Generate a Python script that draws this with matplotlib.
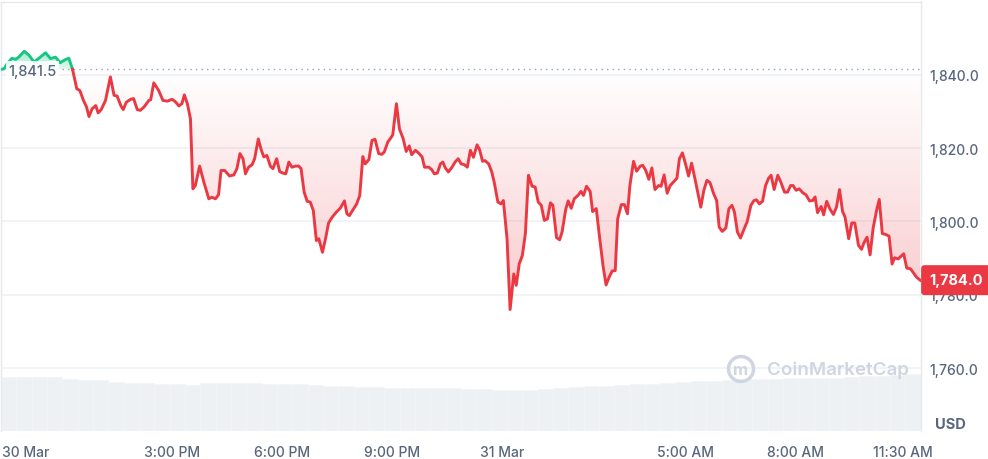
import numpy as np
import matplotlib.pyplot as plt
from matplotlib.colors import LinearSegmentedColormap
from matplotlib.path import Path
from matplotlib.patches import Circle

plt.rcParams['font.family'] = ['Inter', 'DejaVu Sans']

# minutes since 30 Mar 00:00, price in USD
minutes = [621, 625, 630, 638, 644, 649, 658, 666, 674, 682, 693, 701, 709, 717, 726, 731, 737,
           744, 749, 755, 760, 764, 769, 775, 779, 784, 791, 799, 805, 810, 816, 820, 825, 832,
           837, 843, 848, 854, 862, 865, 870, 878, 885, 892, 900, 905, 911, 916, 920, 925, 930,
           934, 938, 945, 952, 960, 965, 971, 976, 980, 986, 994, 1001, 1006, 1011,
           1016, 1020, 1025, 1031, 1035, 1041, 1046, 1050, 1055, 1061, 1065, 1071, 1076, 1081,
           1086, 1091, 1096, 1102, 1107, 1111, 1116, 1121, 1126, 1131, 1136, 1140, 1146, 1151,
           1156, 1162, 1169, 1175, 1182, 1186, 1190, 1197, 1202, 1207, 1212, 1216, 1222, 1227,
           1232, 1238, 1243, 1247, 1253, 1257, 1261, 1267, 1272, 1278, 1283, 1288, 1292, 1298,
           1303, 1309, 1313, 1320, 1325, 1329, 1334, 1339, 1343, 1347, 1352, 1358, 1363, 1368,
           1373, 1378, 1383, 1388,
           1393, 1399, 1403, 1408, 1412, 1418, 1423, 1427, 1433, 1438, 1442, 1448, 1453, 1459,
           1463, 1468, 1473, 1478, 1483, 1489, 1494, 1499, 1504, 1509, 1514, 1519, 1523, 1529,
           1534, 1538, 1544, 1548, 1553, 1558, 1564, 1569, 1573, 1578, 1584, 1588, 1594, 1599,
           1605, 1610, 1615, 1620, 1625, 1629, 1635, 1640, 1645, 1649, 1655, 1660, 1666, 1670,
           1675, 1680, 1685, 1690, 1696, 1700, 1705, 1710, 1715, 1720, 1726, 1730, 1735, 1740,
           1745, 1750,
           1756, 1761, 1765, 1770, 1775, 1780, 1786, 1791, 1795, 1800, 1806, 1811, 1816, 1820,
           1825, 1830, 1836, 1841, 1847, 1852, 1856, 1861, 1866, 1871, 1876, 1880, 1885, 1891,
           1896, 1902, 1907, 1912, 1916, 1921, 1926, 1932, 1937, 1943, 1948, 1952, 1956, 1962,
           1966, 1971, 1976, 1982, 1987, 1992, 1997, 2001, 2007, 2012, 2017, 2023, 2028, 2032,
           2037, 2042, 2047, 2053, 2057, 2062, 2067, 2073, 2078, 2082, 2088, 2093, 2097, 2102,
           2108, 2113, 2118, 2124]
prices = [1841.5, 1841.6, 1843.0, 1844.5, 1844.2, 1844.8, 1846.4, 1845.3, 1843.5, 1844.5,
          1846.0, 1844.4, 1844.8, 1843.3, 1844.2, 1844.5, 1841.5,
          1836.2, 1835.7, 1833.0, 1831.2, 1828.6, 1830.7, 1831.6, 1829.6, 1830.5, 1833.0, 1839.4,
          1834.4, 1834.2, 1831.6, 1830.5, 1832.5, 1833.3, 1833.5, 1830.5, 1830.3, 1831.2, 1833.0,
          1833.2, 1837.8, 1835.7, 1833.0, 1832.8, 1833.3, 1832.7, 1831.5, 1832.1, 1834.5, 1832.1,
          1828.0, 1808.9, 1809.8, 1815.1, 1810.7, 1806.2, 1806.6, 1806.2, 1807.3, 1813.9, 1813.9,
          1812.4, 1812.7, 1814.4, 1818.5,
          1817.1, 1813.0, 1814.8, 1815.5, 1817.1, 1822.5, 1819.4, 1817.6, 1818.0, 1815.0, 1814.4,
          1817.1, 1813.6, 1813.2, 1813.0, 1816.2, 1814.8, 1815.1, 1815.1, 1814.4, 1808.0, 1805.5,
          1805.3, 1803.0, 1794.8, 1795.3, 1791.6, 1795.3, 1799.6, 1801.2, 1802.6, 1803.6, 1805.6,
          1802.1, 1801.6, 1803.5, 1804.8, 1807.1, 1817.7, 1815.7, 1816.9, 1822.1, 1822.4, 1818.5,
          1818.3, 1818.9, 1821.7, 1822.6, 1823.6, 1832.1, 1825.2, 1822.6, 1819.1, 1820.6, 1818.2,
          1819.4, 1818.7, 1817.6, 1814.8, 1814.8, 1814.1, 1813.0, 1813.2, 1815.7, 1816.2, 1814.6,
          1813.5, 1814.8, 1816.2, 1817.1, 1815.7, 1815.5, 1814.8, 1819.4,
          1817.5, 1820.9, 1819.6, 1816.4, 1816.6, 1815.7, 1813.5, 1810.7, 1805.3, 1804.8, 1805.7,
          1795.3, 1776.0, 1785.7, 1782.6, 1788.5, 1790.7, 1796.7, 1812.6, 1809.6, 1809.4, 1805.3,
          1804.4, 1800.3, 1800.7, 1805.1, 1804.4, 1795.6, 1795.0, 1797.1, 1803.3, 1805.6, 1803.6,
          1806.2, 1807.1, 1808.2, 1807.1, 1809.6, 1808.2, 1802.7, 1803.5, 1796.2, 1788.0, 1782.7,
          1784.8, 1786.5, 1786.6, 1800.7, 1804.6, 1804.6, 1802.1, 1809.8, 1816.4, 1813.7, 1815.1,
          1815.3, 1813.9, 1811.5, 1814.6, 1808.7, 1809.8, 1809.6, 1812.7, 1807.7, 1809.8, 1810.7,
          1811.8, 1817.1, 1818.7, 1815.7, 1812.4, 1815.9,
          1811.2, 1807.1, 1803.9, 1808.5, 1811.2, 1810.6, 1807.6, 1805.7, 1798.5, 1797.3, 1798.2,
          1803.5, 1804.4, 1802.6, 1797.1, 1795.5, 1798.0, 1800.0, 1804.4, 1805.7, 1805.9, 1804.8,
          1805.5, 1809.8, 1811.8, 1812.6, 1808.7, 1812.6, 1810.7, 1808.0, 1808.0, 1809.8, 1809.8,
          1808.5, 1808.9, 1807.8, 1807.3, 1805.6, 1805.7, 1806.7, 1802.4, 1804.1, 1801.8, 1805.5,
          1803.5, 1801.9, 1803.9, 1808.7, 1802.7, 1801.2, 1795.3, 1799.6, 1799.6, 1793.5, 1792.4,
          1794.2, 1795.7, 1790.9, 1798.2, 1803.3, 1806.0, 1796.7, 1796.5, 1796.0, 1788.4, 1790.1,
          1789.8, 1790.6, 1791.2, 1787.3, 1787.1, 1786.0, 1784.8, 1784.0]
volume = [54, 54, 54, 54, 52, 51, 51, 49, 48, 48, 47, 47, 46, 48, 48, 48, 48, 47, 47, 47,
          46, 45, 45, 44, 44, 43, 43, 43, 43, 43, 42, 42, 41, 41, 41, 42, 43, 44, 45, 45,
          46, 47, 47, 48, 49, 50, 50, 51, 52, 52, 52, 53, 53, 53, 53, 54, 55, 55, 56, 57]

base_price = 1841.5
y_ticks = [1760, 1780, 1800, 1820, 1840]
x_tick_pos = [660, 900, 1080, 1260, 1440, 1740, 1920, 2095]
x_tick_labels = ['30 Mar', '3:00 PM', '6:00 PM', '9:00 PM', '31 Mar', '5:00 AM', '8:00 AM', '11:30 AM']

red = '#ea3943'
green = '#16c784'
grey_text = '#58667e'

t = np.array(minutes, dtype=float)
p = np.array(prices)
x0, x1 = 620, 2125

fig = plt.figure(figsize=(9.88, 4.6), dpi=100)
ax = fig.add_axes([0.001, 0.061, 0.931, 0.933])
ax.set_xlim(x0, x1)
ax.set_ylim(1742.9, 1859.9)

# volume bars behind the price line
vax = ax.twinx()
vax.set_ylim(0, 429)
edges = np.linspace(x0, x1, len(volume) + 1)
vax.bar(edges[:-1], volume, width=edges[1] - edges[0], align='edge',
        color='#eef1f4', edgecolor='#f3f5f7', linewidth=0.4)
vax.set_yticks([])
vax.set_zorder(0)
ax.set_zorder(1)
ax.patch.set_visible(False)
for s in vax.spines.values():
    s.set_visible(False)

for yv in y_ticks:
    ax.axhline(yv, color='#eff2f5', lw=1.2, zorder=0)
ax.axhline(base_price, color='#9aa3b2', lw=1, ls=(0, (1, 3)), zorder=1)

# gradient fills between line and opening price
def gradient_fill(mask, c_rgb, lo, hi, alpha_lo, alpha_hi):
    coll = ax.fill_between(t, p, base_price, where=mask, interpolate=True,
                           facecolor='none', edgecolor='none')
    path = Path.make_compound_path(*coll.get_paths())
    cmap = LinearSegmentedColormap.from_list('g', [(*c_rgb, alpha_lo), (*c_rgb, alpha_hi)])
    grad = np.linspace(0, 1, 256).reshape(-1, 1)
    im = ax.imshow(grad, cmap=cmap, aspect='auto', extent=[x0, x1, lo, hi],
                   origin='lower', zorder=1.5)
    im.set_clip_path(path, transform=ax.transData)

gradient_fill(p <= base_price, (234/255, 57/255, 67/255), 1841.5, 1776, 0.0, 0.27)
gradient_fill(p >= base_price, (22/255, 199/255, 132/255), 1841.5, 1847, 0.12, 0.45)
ax.set_xlim(x0, x1)
ax.set_ylim(1742.9, 1859.9)

cross = 16
ax.plot(t[:cross + 1], p[:cross + 1], color=green, lw=2.1, zorder=3, solid_joinstyle='round')
ax.plot(t[cross:], p[cross:], color=red, lw=2.1, zorder=3, solid_joinstyle='round')

ax.annotate('1,841.5', xy=(0, base_price), xycoords=('axes fraction', 'data'),
            xytext=(5.5, -1), textcoords='offset points', ha='left', va='center',
            fontsize=10.5, color=grey_text, fontweight='medium', zorder=4,
            bbox=dict(boxstyle='square,pad=0.15', fc='white', ec='none', alpha=0.85))

# axes styling
ax.set_yticks(y_ticks)
ax.set_yticklabels([f'{v:,.1f}' for v in y_ticks])
ax.yaxis.tick_right()
ax.set_xticks(x_tick_pos)
ax.set_xticklabels(x_tick_labels)
ax.tick_params(axis='both', length=0, labelsize=10, labelcolor=grey_text)
ax.tick_params(axis='y', pad=6)
ax.tick_params(axis='x', pad=10)
for lab in ax.get_yticklabels() + ax.get_xticklabels():
    lab.set_fontweight('medium')
ax.spines['bottom'].set_visible(False)
for k in ['left', 'top', 'right']:
    ax.spines[k].set_color('#e6e9ee')
    ax.spines[k].set_linewidth(1)

# last price tag
ax.annotate(f'{prices[-1]:,.1f}', xy=(1, prices[-1]), xycoords=('axes fraction', 'data'),
            xytext=(6, 0), textcoords='offset points', ha='left', va='center',
            fontsize=10.5, color='white', fontweight='bold', zorder=6, annotation_clip=False,
            bbox=dict(boxstyle='round,pad=0.55,rounding_size=0.25', fc=red, ec='none'))

fig.text(0.962, 0.075, 'USD', ha='center', va='center', fontsize=10.5,
         fontweight='bold', color=grey_text)

# watermark
wm = '#cfd6e2'
fig.patches.append(Circle((741, 460 - 370), 12.5, transform=None, fill=False,
                          ec=wm, lw=2.5, figure=fig))
fig.text(741 / 988, 1 - 371 / 460, 'm', ha='center', va='center', fontsize=12,
         fontweight='bold', color=wm)
fig.text(767 / 988, 1 - 370 / 460, 'CoinMarketCap', ha='left', va='center',
         fontsize=13.5, fontweight='semibold', color=wm)

fig.savefig('out.png', dpi=100, facecolor='white')
